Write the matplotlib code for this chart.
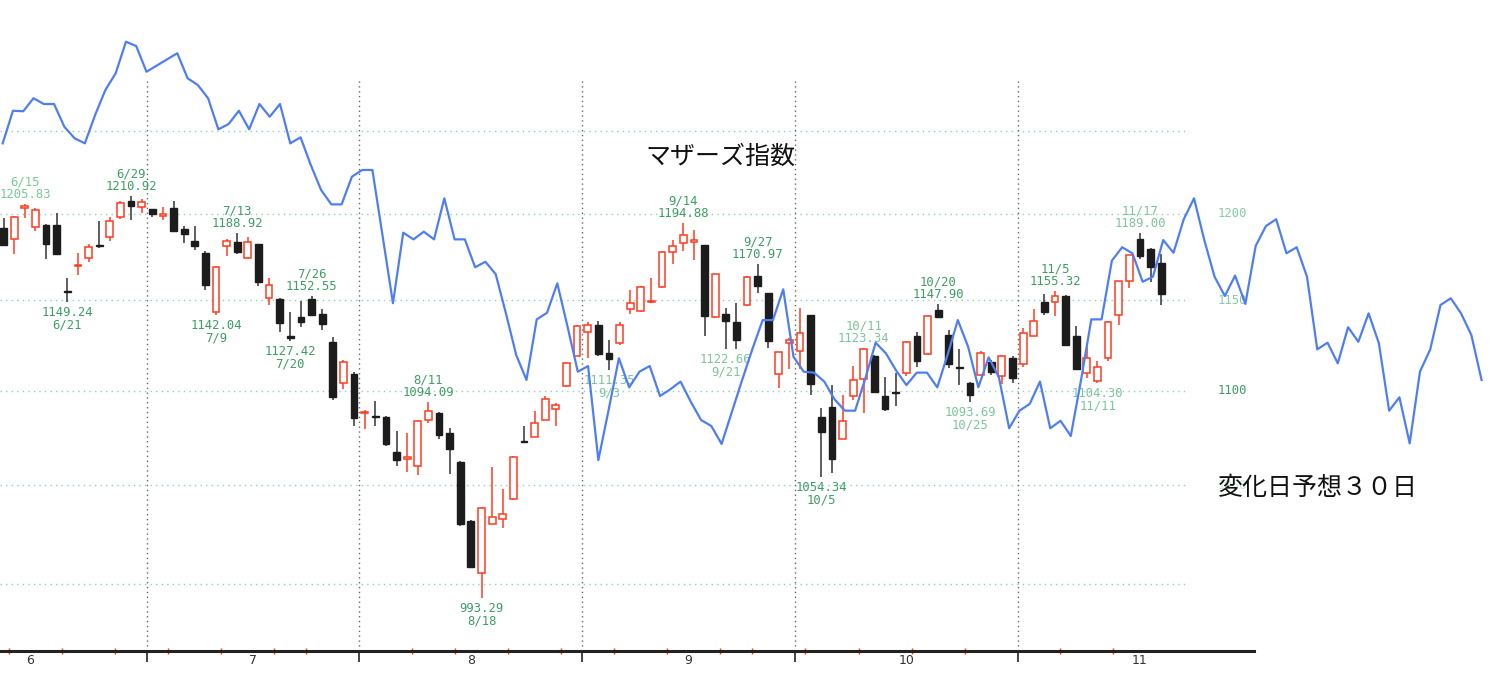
import numpy as np
import pandas as pd
import matplotlib
matplotlib.use('Agg')
import matplotlib.pyplot as plt
import matplotlib.transforms as mtransforms
from matplotlib.ticker import NullLocator

plt.rcParams['font.family'] = ['DejaVu Sans', 'Noto Sans CJK JP']

## trading days (2021, Tokyo holidays removed)
holidays = pd.to_datetime(['2021-07-22', '2021-07-23', '2021-08-09',
                           '2021-09-20', '2021-09-23', '2021-11-03'])
dates = pd.bdate_range('2021-06-11', '2021-11-19')
dates = dates[~dates.isin(holidays)]

## daily candles
opens = [1192.0, 1185.6, 1203.5, 1192.3, 1193.7, 1193.7, 1155.5, 1169.8, 1174.5, 1181.8,
         1186.4, 1198.1, 1208.0, 1203.9, 1202.9, 1198.8, 1203.3, 1191.4, 1184.0, 1177.4,
         1143.2, 1181.2, 1183.5, 1174.0, 1182.2, 1151.5, 1151.0, 1130.0, 1140.4, 1151.0,
         1142.2, 1126.7, 1104.4, 1109.0, 1088.2, 1086.3, 1086.0, 1067.4, 1063.8, 1060.1,
         1084.2, 1088.1, 1077.1, 1061.9, 1031.5, 1005.7, 1030.3, 1032.7, 1042.8, 1072.9,
         1075.4, 1084.2, 1089.9, 1102.7, 1119.0, 1132.4, 1136.3, 1120.5, 1125.9, 1145.0,
         1144.0, 1149.0, 1157.9, 1177.7, 1183.2, 1183.7, 1181.8, 1140.9, 1142.2, 1138.0,
         1147.2, 1164.0, 1154.0, 1108.9, 1125.9, 1121.8, 1141.7, 1086.0, 1091.1, 1074.3,
         1097.0, 1106.5, 1119.0, 1097.0, 1099.5, 1109.5, 1130.2, 1120.0, 1144.4, 1130.5,
         1113.0, 1104.3, 1108.3, 1115.4, 1107.9, 1118.1, 1114.4, 1130.2, 1149.3, 1149.0,
         1152.5, 1129.8, 1109.8, 1105.2, 1117.6, 1141.7, 1161.0, 1185.4, 1179.7, 1171.1]
highs = [1197.7, 1198.8, 1205.83, 1203.3, 1194.0, 1200.7, 1163.0, 1177.0, 1182.2, 1195.6,
         1198.4, 1207.6, 1210.92, 1209.0, 1203.2, 1203.9, 1208.0, 1193.1, 1192.7, 1178.3,
         1169.7, 1185.6, 1188.92, 1186.6, 1182.5, 1163.0, 1151.5, 1143.2, 1149.6, 1152.55,
         1145.0, 1129.6, 1117.0, 1110.0, 1089.7, 1094.3, 1086.5, 1078.4, 1077.5, 1084.0,
         1094.09, 1088.5, 1080.2, 1062.5, 1032.0, 1038.5, 1059.2, 1047.8, 1065.0, 1081.0,
         1089.0, 1097.0, 1093.5, 1115.4, 1136.0, 1138.0, 1138.5, 1128.0, 1138.0, 1156.1,
         1158.2, 1163.0, 1178.3, 1184.6, 1194.88, 1190.6, 1182.0, 1165.2, 1145.9, 1148.3,
         1164.0, 1170.97, 1154.4, 1121.3, 1128.7, 1145.9, 1142.0, 1090.8, 1102.8, 1097.4,
         1113.5, 1123.34, 1119.4, 1107.4, 1109.8, 1127.0, 1132.0, 1141.7, 1147.90, 1133.3,
         1122.8, 1104.6, 1121.8, 1116.6, 1119.4, 1119.0, 1134.3, 1145.4, 1153.4, 1155.32,
         1153.0, 1135.7, 1123.7, 1116.2, 1138.2, 1161.3, 1176.0, 1189.00, 1180.3, 1176.4]
lows = [1181.0, 1176.4, 1197.5, 1189.8, 1173.5, 1176.4, 1149.24, 1164.4, 1171.7, 1180.3,
        1184.0, 1197.0, 1196.5, 1200.7, 1198.4, 1196.5, 1190.0, 1183.2, 1178.7, 1155.7,
        1142.04, 1175.4, 1176.3, 1173.5, 1158.2, 1147.2, 1132.2, 1127.42, 1134.8, 1141.3,
        1133.5, 1094.7, 1101.0, 1081.0, 1079.6, 1080.8, 1070.4, 1059.7, 1057.0, 1055.3,
        1082.4, 1073.9, 1055.8, 1029.0, 1008.3, 993.29, 1030.0, 1028.0, 1042.4, 1072.0,
        1075.2, 1084.0, 1080.8, 1102.0, 1118.7, 1118.0, 1119.0, 1111.35, 1125.0, 1142.2,
        1143.5, 1148.7, 1156.9, 1170.7, 1178.3, 1173.2, 1130.2, 1139.8, 1122.66, 1122.8,
        1146.8, 1154.4, 1123.2, 1101.4, 1111.6, 1112.0, 1097.9, 1054.34, 1056.5, 1074.0,
        1095.2, 1088.1, 1098.8, 1089.0, 1091.6, 1108.0, 1113.1, 1119.5, 1140.0, 1112.6,
        1103.3, 1093.69, 1108.0, 1108.3, 1103.7, 1104.2, 1113.1, 1130.0, 1141.7, 1141.0,
        1124.5, 1111.4, 1107.0, 1104.30, 1116.2, 1136.1, 1157.2, 1173.5, 1160.5, 1147.2]
closes = [1181.6, 1198.4, 1204.5, 1202.3, 1182.2, 1176.8, 1155.0, 1170.5, 1180.9, 1181.2,
          1196.1, 1206.7, 1204.6, 1207.1, 1200.0, 1200.0, 1190.2, 1188.3, 1181.2, 1158.6,
          1168.8, 1184.1, 1177.7, 1183.7, 1160.5, 1158.6, 1137.2, 1129.0, 1137.6, 1141.7,
          1136.7, 1096.8, 1115.6, 1085.5, 1088.7, 1085.6, 1071.3, 1062.8, 1064.6, 1083.7,
          1089.0, 1076.1, 1069.0, 1030.3, 1008.7, 1038.2, 1033.7, 1034.9, 1064.7, 1072.3,
          1082.4, 1095.7, 1092.0, 1115.0, 1135.7, 1136.3, 1120.0, 1117.2, 1136.3, 1148.3,
          1157.9, 1149.6, 1178.0, 1181.2, 1187.5, 1184.5, 1141.3, 1164.9, 1138.5, 1128.0,
          1163.6, 1158.2, 1127.0, 1121.0, 1127.8, 1131.7, 1103.7, 1078.0, 1063.7, 1083.7,
          1105.6, 1123.0, 1099.1, 1090.2, 1098.8, 1126.8, 1116.3, 1141.3, 1140.4, 1114.4,
          1112.6, 1097.9, 1120.5, 1110.2, 1119.0, 1107.0, 1131.5, 1138.5, 1143.2, 1152.5,
          1125.0, 1111.6, 1117.7, 1113.1, 1138.0, 1161.0, 1175.8, 1175.4, 1169.3, 1153.9]

## change-day forecast line (incl. 30-day projection)
forecast = [1242.5, 1262.6, 1262.3, 1270.4, 1266.8, 1266.8, 1252.7, 1245.6, 1242.5, 1260.0,
            1275.6, 1286.1, 1306.3, 1303.5, 1287.1, 1291.0, 1294.9, 1298.9, 1283.0, 1278.7,
            1270.4, 1251.1, 1254.4, 1262.6, 1251.1, 1266.8, 1258.9, 1266.8, 1242.5, 1246.2,
            1229.3, 1214.3, 1205.7, 1205.7, 1222.2, 1226.3, 1226.3, 1186.7, 1148.4, 1189.0,
            1185.1, 1189.6, 1185.1, 1209.3, 1185.1, 1185.1, 1168.9, 1172.1, 1165.0, 1142.7,
            1119.5, 1105.8, 1139.3, 1143.0, 1159.7, 1135.2, 1110.3, 1113.4, 1063.0, 1089.6,
            1117.7, 1101.8, 1110.3, 1113.4, 1097.1, 1100.7, 1104.9, 1094.0, 1084.2, 1081.0,
            1071.5, 1088.5, 1105.8, 1122.8, 1138.9, 1138.9, 1156.3, 1118.5, 1110.3, 1109.8,
            1104.9, 1095.3, 1089.2, 1089.2, 1106.7, 1126.3, 1120.4, 1110.9, 1103.0, 1109.8,
            1109.8, 1101.8, 1119.5, 1138.9, 1124.1, 1101.8, 1118.2, 1107.3, 1079.8, 1089.2,
            1092.8, 1104.9, 1079.8, 1083.8, 1075.7, 1105.8, 1139.3, 1139.3, 1172.7, 1180.5,
            1177.0, 1160.6, 1163.5, 1184.7, 1177.3, 1196.9, 1209.3, 1184.7, 1163.5, 1152.5,
            1164.1, 1148.0, 1181.2, 1192.9, 1196.9, 1177.0, 1180.5, 1163.5, 1122.6, 1126.3,
            1114.9, 1134.9, 1126.8, 1142.7, 1126.0, 1089.2, 1096.4, 1071.8, 1110.3, 1122.6,
            1147.4, 1151.2, 1142.7, 1130.6, 1105.8]

## labelled highs / lows (candle index)
high_marks = [2, 12, 22, 29, 40, 64, 71, 81, 88, 99, 107]
low_marks = [6, 20, 27, 45, 57, 68, 77, 91, 103]
light_marks = [2, 57, 68, 81, 91, 103, 107]

levels = [1000, 1050, 1100, 1150, 1200, 1250]
scale_labels = [1050, 1100, 1150, 1200]
month_names = ['6', '7', '8', '9', '10', '11']
month_label_pos = [2.5, 23.5, 44, 64.5, 85, 107]

n = len(dates)
idx = np.arange(n)
o = np.array(opens); h = np.array(highs); l = np.array(lows); c = np.array(closes)
up = c >= o

W, H = 1500, 677
fig = plt.figure(figsize=(W / 100, H / 100), dpi=100)
ax = fig.add_axes([0, 26 / H, 1, 651 / H])
ax.set_yscale('log')
ax.set_ylim(967.6, 1333.4)
ax.set_xlim(-3.6 / 10.62, (W - 3.6) / 10.62)

# grid
for lv in levels:
    ax.axhline(lv, xmin=0, xmax=1189 / W, color='#8fd3ac', lw=1.0,
               ls=(0, (1, 3)), zorder=1)
month_bounds = [i - 0.5 for i in range(1, n) if dates[i].month != dates[i - 1].month]
week_ticks = [i - 0.5 for i in range(1, n)
              if dates[i].weekday() < dates[i - 1].weekday() and dates[i].month == dates[i - 1].month]
for b in month_bounds:
    ax.axvline(b, ymin=0, ymax=(651 - 78) / 651, color='#666666', lw=1.0,
               ls=(0, (1, 2.5)), zorder=1)

# candles
red = '#ff3a1e'
blk = '#1c1c1c'
ax.vlines(idx[up], l[up], h[up], color=red, lw=1.1, zorder=2)
ax.vlines(idx[~up], l[~up], h[~up], color='#333333', lw=1.1, zorder=2)
ax.bar(idx[up], np.maximum(c[up] - o[up], 0.3), bottom=o[up], width=0.64,
       facecolor='white', edgecolor=red, lw=1.1, zorder=3)
ax.bar(idx[~up], np.maximum(o[~up] - c[~up], 0.3), bottom=c[~up], width=0.64,
       facecolor=blk, edgecolor=blk, lw=1.0, zorder=3)

# high / low annotations
def mark_color(i):
    return '#7cc69a' if i in light_marks else '#3e9d64'

for i in high_marks:
    ax.annotate(f"{dates[i].month}/{dates[i].day}\n{h[i]:.2f}", (i, h[i]),
                xytext=(0, 2), textcoords='offset points', ha='center', va='bottom',
                fontsize=8.8, family='DejaVu Sans Mono', color=mark_color(i),
                linespacing=0.95, zorder=4)
for i in low_marks:
    ax.annotate(f"{l[i]:.2f}\n{dates[i].month}/{dates[i].day}", (i, l[i]),
                xytext=(0, -3), textcoords='offset points', ha='center', va='top',
                fontsize=8.8, family='DejaVu Sans Mono', color=mark_color(i),
                linespacing=0.95, zorder=4)

# right-hand scale labels
tr = mtransforms.blended_transform_factory(ax.transAxes, ax.transData)
for lv in scale_labels:
    col = '#3e9d64' if lv == 1100 else '#86cba2'
    ax.text(1232 / W, lv, str(lv), transform=tr, ha='center', va='center',
            fontsize=8.8, family='DejaVu Sans Mono', color=col,
            alpha=0.45 if lv == 1050 else 1.0)

# axes cosmetics
for s in ['top', 'left', 'right']:
    ax.spines[s].set_visible(False)
ax.spines['bottom'].set_bounds(-3.6 / 10.62, (1254 - 3.6) / 10.62)
ax.spines['bottom'].set_linewidth(2.2)
ax.spines['bottom'].set_color('#222222')
ax.yaxis.set_major_locator(NullLocator())
ax.yaxis.set_minor_locator(NullLocator())
ax.set_xticks(month_bounds)
ax.set_xticks(week_ticks, minor=True)
ax.tick_params(axis='x', which='major', direction='out', length=8, width=1.1,
               color='#111111', labelbottom=False)
ax.tick_params(axis='x', which='minor', direction='inout', length=5, width=1.0,
               color=red)
ax.tick_params(axis='y', which='both', left=False, labelleft=False)

tb = mtransforms.blended_transform_factory(ax.transData, ax.transAxes)
for pos, name in zip(month_label_pos, month_names):
    ax.text(pos, -10 / 651, name, transform=tb, ha='center', va='center',
            fontsize=9, color='#333333', clip_on=False)

# forecast line on its own day spacing
ax2 = ax.twiny()
ax2.set_xlim(-2.7 / 10.27, (W - 2.7) / 10.27)
ax2.plot(np.arange(len(forecast)), forecast, color='#4f7ef3', lw=1.6)
ax2.axis('off')

fig.text(720 / W, 1 - 157 / H, 'マザーズ指数', ha='center', va='center',
         fontsize=18, family='Noto Sans CJK JP', color='#111111')
fig.text(1318 / W, 1 - 488 / H, '変化日予想３０日', ha='center', va='center',
         fontsize=18, family='Noto Sans CJK JP', color='#111111')

fig.savefig('out.png', dpi=100, facecolor='white')
